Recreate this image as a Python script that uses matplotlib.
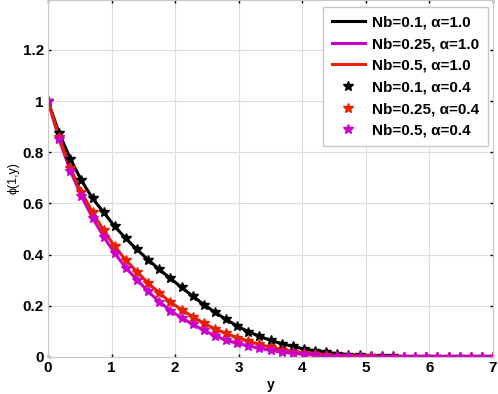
import numpy as np
import matplotlib
matplotlib.use('Agg')
import matplotlib.pyplot as plt

# y grid (41 points, 0..7)
y = np.linspace(0, 7, 41)

phi_nb01 = [1.0, 0.875, 0.775, 0.69, 0.62, 0.565, 0.51, 0.463, 0.42, 0.38,
            0.342, 0.307, 0.272, 0.238, 0.205, 0.175, 0.147, 0.121, 0.099, 0.081,
            0.065, 0.052, 0.041, 0.031, 0.024, 0.018, 0.013, 0.009, 0.006, 0.004,
            0.003, 0.002, 0.001, 0.001, 0.0, 0.0, 0.0, 0.0, 0.0, 0.0, 0.0]
phi_nb05 = [1.0, 0.86, 0.74, 0.645, 0.565, 0.495, 0.432, 0.378, 0.333, 0.289,
            0.251, 0.214, 0.185, 0.158, 0.132, 0.11, 0.092, 0.076, 0.062, 0.049,
            0.038, 0.029, 0.021, 0.015, 0.011, 0.008, 0.005, 0.004, 0.003, 0.002,
            0.001, 0.001, 0.0, 0.0, 0.0, 0.0, 0.0, 0.0, 0.0, 0.0, 0.0]
phi_nb025 = [1.0, 0.85, 0.728, 0.628, 0.544, 0.47, 0.405, 0.348, 0.302, 0.256,
             0.216, 0.181, 0.153, 0.128, 0.104, 0.083, 0.066, 0.053, 0.043, 0.034,
             0.026, 0.019, 0.014, 0.01, 0.007, 0.005, 0.003, 0.002, 0.001, 0.001,
             0.0, 0.0, 0.0, 0.0, 0.0, 0.0, 0.0, 0.0, 0.0, 0.0, 0.0]

plt.rcParams['font.family'] = ['Liberation Sans', 'DejaVu Sans']

fig = plt.figure(figsize=(4.98, 3.94), dpi=100)
ax = fig.add_axes([0.0964, 0.094, 0.8936, 0.906])

lw = 2.2
ax.plot(y, phi_nb01, color='black', lw=lw, label='Nb=0.1, α=1.0')
ax.plot(y, phi_nb025, color='#cc00cc', lw=lw, label='Nb=0.25, α=1.0')
ax.plot(y, phi_nb05, color='#e62000', lw=lw, label='Nb=0.5, α=1.0')
ax.plot(y, phi_nb01, ls='none', marker='*', ms=7, color='black', label='Nb=0.1, α=0.4')
ax.plot(y, phi_nb05, ls='none', marker='*', ms=7, color='#e62000', label='Nb=0.25, α=0.4')
ax.plot(y, phi_nb025, ls='none', marker='*', ms=7, color='#cc00cc', label='Nb=0.5, α=0.4')

ax.set_xlim(0, 7)
ax.set_ylim(0, 1.395)
ax.set_xticks(range(8))
ax.set_yticks([0, 0.2, 0.4, 0.6, 0.8, 1.0, 1.2])
ax.set_yticklabels(['0', '0.2', '0.4', '0.6', '0.8', '1', '1.2'])
ax.grid(True, color='#dcdcdc', lw=0.8)
ax.set_axisbelow(True)
for s in ax.spines.values():
    s.set_color('#c8c8c8')
ax.tick_params(direction='in', length=2, width=1, top=True, right=True,
               labelsize=11, pad=3)
for lab in ax.get_xticklabels() + ax.get_yticklabels():
    lab.set_fontweight('bold')

ax.set_xlabel('y', fontsize=10, fontweight='bold', labelpad=2)
ax.set_ylabel('ϕ(1,y)', fontsize=9, labelpad=2)

leg = ax.legend(loc='upper right', bbox_to_anchor=(0.988, 0.98),
                prop={'weight': 'bold', 'size': 11}, handlelength=2.2,
                handletextpad=0.45, labelspacing=0.5, borderpad=0.55,
                borderaxespad=0, fancybox=False, framealpha=1,
                edgecolor='#c8c8c8')

fig.savefig('out.png', dpi=100)
